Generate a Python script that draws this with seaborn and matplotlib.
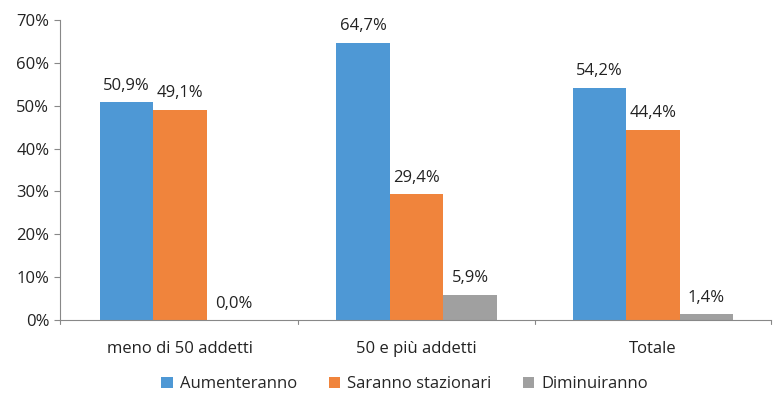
import pandas as pd
import matplotlib.pyplot as plt
import seaborn as sns
from matplotlib.ticker import FuncFormatter

categorie = ["meno di 50 addetti", "50 e più addetti", "Totale"]
serie = ["Aumenteranno", "Saranno stazionari", "Diminuiranno"]
aumenteranno = [50.9, 64.7, 54.2]
stazionari = [49.1, 29.4, 44.4]
diminuiranno = [0.0, 5.9, 1.4]
colori = ["#4E98D5", "#F0843C", "#A0A0A0"]

rows = []
for vals, s in zip([aumenteranno, stazionari, diminuiranno], serie):
    for c, v in zip(categorie, vals):
        rows.append({"Categoria": c, "Serie": s, "Valore": v})
df = pd.DataFrame(rows)

sns.set_style("white")
plt.rcParams['font.family'] = ['Open Sans', 'DejaVu Sans']

fig = plt.figure(figsize=(7.75, 3.93), dpi=100)
ax = fig.add_axes([0.077, 0.186, 0.918, 0.763])
sns.barplot(data=df, x="Categoria", y="Valore", hue="Serie", palette=colori,
            width=0.68, saturation=1, ax=ax, errorbar=None, linewidth=0)

for cont in ax.containers:
    labels = [f"{v:.1f}%".replace(".", ",") for v in cont.datavalues]
    ax.bar_label(cont, labels=labels, padding=6, fontsize=12, color="#222222")

ax.set_ylim(0, 70)
ax.set_yticks(range(0, 71, 10))
ax.yaxis.set_major_formatter(FuncFormatter(lambda v, p: f"{v:.0f}%"))
ax.set_xlim(-0.51, 2.5)
ax.set_xlabel("")
ax.set_ylabel("")
ax.tick_params(axis="both", labelsize=12, colors="#222222")
ax.tick_params(axis="y", left=True, length=4, color="#888888")
ax.tick_params(axis="x", pad=12, bottom=False)
for s in ["top", "right"]:
    ax.spines[s].set_visible(False)
ax.spines["left"].set_color("#888888")
ax.spines["bottom"].set_color("#888888")
# tick marks between groups
for xb in [-0.51, 0.5, 1.5, 2.5]:
    ax.plot([xb, xb], [0, -0.015], transform=ax.get_xaxis_transform(),
            color="#888888", lw=0.8, clip_on=False)

handles, labs = ax.get_legend_handles_labels()
ax.legend_.remove()
fig.legend(handles, labs, loc="center", bbox_to_anchor=(0.522, 0.022), ncol=3,
           frameon=False, fontsize=12, handlelength=0.7, handleheight=0.7,
           columnspacing=1.9, handletextpad=0.4)

plt.savefig("out.png", dpi=100)
